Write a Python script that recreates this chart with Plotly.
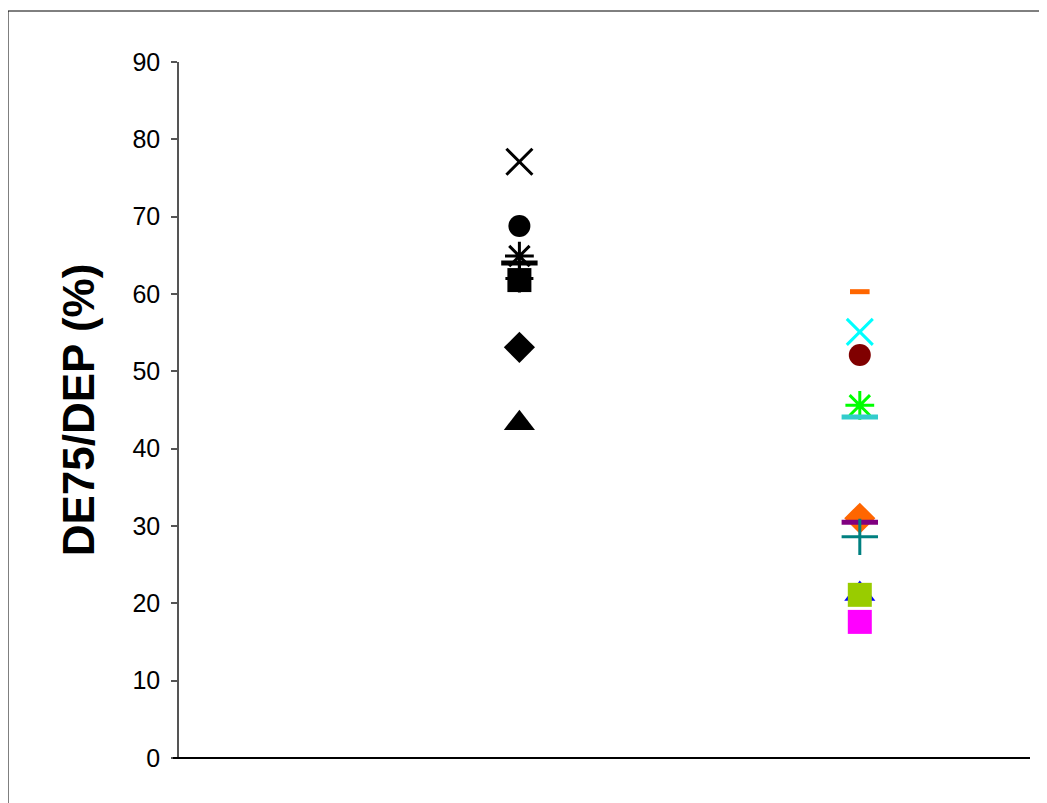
import plotly.graph_objects as go

# Left group (black markers)
left_symbols = ["x-thin-open", "circle", "asterisk-open", "cross-thin-open", "line-ew-open", "square", "diamond", "triangle-up"]
left_values = [77.1, 68.8, 64.9, 62.0, 64.0, 61.8, 53.1, 43.3]

# Right group (coloured markers)
right_symbols = ["line-ew-open", "x-thin-open", "circle", "asterisk-open", "line-ew-open", "diamond", "line-ew-open", "cross-thin-open", "triangle-up", "square", "square"]
right_values = [60.3, 55.1, 52.1, 45.6, 44.1, 31.0, 30.5, 28.6, 21.2, 21.1, 17.6]
right_colors = ["#FF6600", "#00FFFF", "#800000", "#00FF00", "#33CCCC", "#FF6600", "#800080", "#008080", "#0000FF", "#99CC00", "#FF00FF"]

y_ticks = [0, 10, 20, 30, 40, 50, 60, 70, 80, 90]

sizes = {"x-thin-open": 26, "circle": 22, "asterisk-open": 24, "line-ew-open": 26,
         "cross-thin-open": 26, "square": 24, "diamond": 24, "triangle-up": 27}

fig = go.Figure()

def add(xpos, val, sym, color, size=None, lw=None):
    open_ = sym.endswith("-open")
    if lw is None:
        lw = 3 if open_ else 0
    if sym == "line-ew-open" and lw == 3:
        lw = 5
    fig.add_trace(go.Scatter(
        x=[xpos], y=[val], mode="markers",
        marker=dict(symbol=sym, size=size or sizes[sym], color=color,
                    line=dict(color=color, width=lw)),
        showlegend=False, hoverinfo="y"))

for v, s in zip(left_values, left_symbols):
    add(1, v, s, "#000000", size=20 if s == "cross-thin-open" else None)
for i, (v, s, c) in enumerate(zip(right_values, right_symbols, right_colors)):
    add(2, v, s, c, size=14 if i == 0 else None)

# page body has an 8px offset
W, H = 1039, 795
L, R, T, B = 171, 17, 54, 45
pw, ph = W - L - R, H - T - B

fig.update_layout(
    width=W, height=H,
    margin=dict(l=L, r=R, t=T, b=B),
    plot_bgcolor="white", paper_bgcolor="white",
    font=dict(family="Liberation Sans, Arial, sans-serif", color="#000000"),
    xaxis=dict(range=[0, 2.5], showgrid=False, zeroline=False, showticklabels=False,
               ticks="", showline=False),
    yaxis=dict(range=[0, 90], tickvals=y_ticks, showgrid=False, zeroline=False,
               showline=True, linecolor="#555555", linewidth=1.5,
               ticks="outside", ticklen=6, tickcolor="#555555", tickwidth=1.5,
               ticklabelstandoff=6,
               tickfont=dict(size=25, family="Liberation Sans, Arial, sans-serif"),
               title=dict(text="<b>DE75/DEP (%)</b>", font=dict(size=44), standoff=24)),
    shapes=[
        dict(type="line", xref="paper", yref="paper",
             x0=-6 / pw, x1=1, y0=0, y1=0, line=dict(color="#000000", width=2)),
        dict(type="rect", xref="paper", yref="paper",
             x0=(0 - L) / pw, x1=(W + 20 - L) / pw,
             y0=-(B + 20) / ph, y1=(ph + T - 3) / ph,
             line=dict(color="#000000", width=1), fillcolor="rgba(0,0,0,0)", layer="below"),
    ],
)

fig.write_html("out.html")
